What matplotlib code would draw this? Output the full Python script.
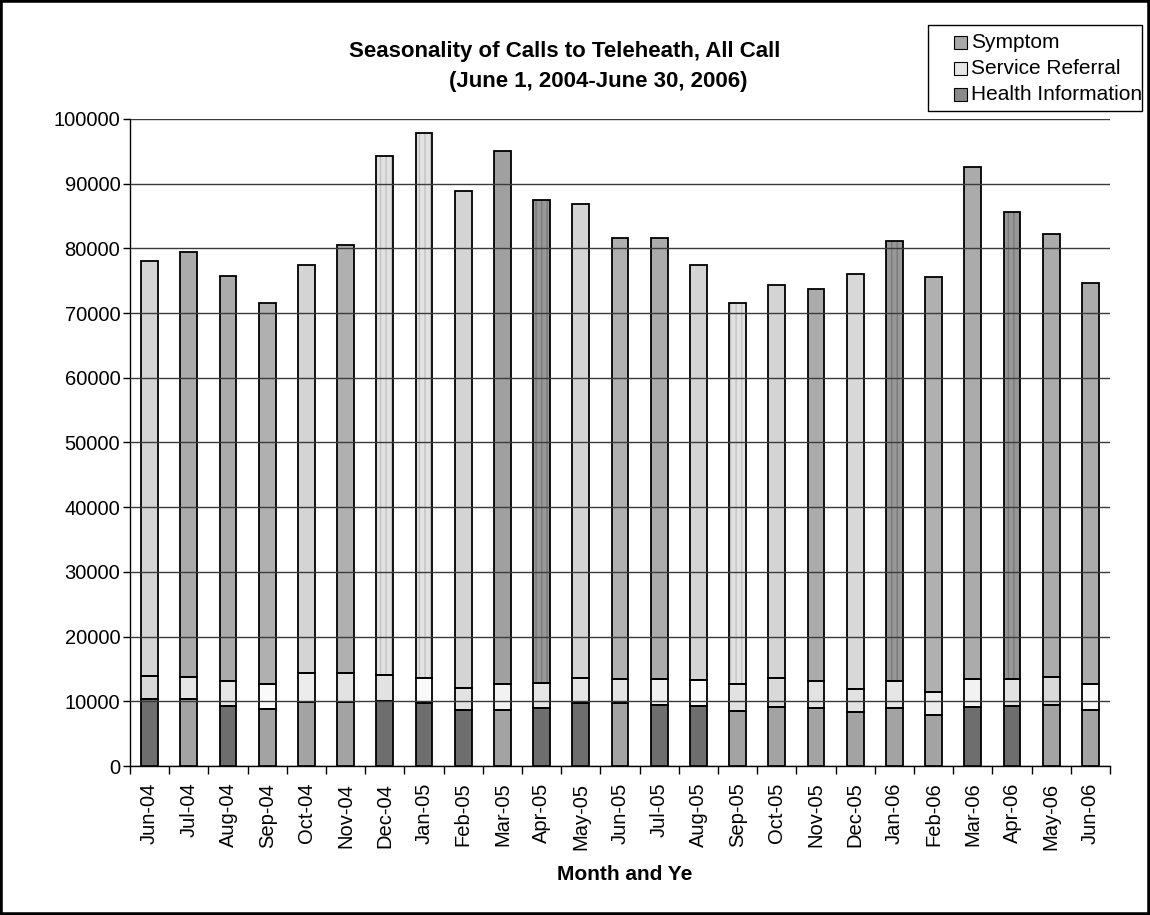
#!/usr/bin/env python3

import matplotlib
matplotlib.use('Agg')
import matplotlib.pyplot as plt
from matplotlib.patches import Rectangle
from matplotlib.ticker import StrMethodFormatter, FixedLocator
import numpy as np

months = ['Jun-04', 'Jul-04', 'Aug-04', 'Sep-04', 'Oct-04', 'Nov-04', 'Dec-04',
          'Jan-05', 'Feb-05', 'Mar-05', 'Apr-05', 'May-05', 'Jun-05', 'Jul-05',
          'Aug-05', 'Sep-05', 'Oct-05', 'Nov-05', 'Dec-05', 'Jan-06', 'Feb-06',
          'Mar-06', 'Apr-06', 'May-06', 'Jun-06']

# calls per month, stacked bottom to top
health_info = [10300, 10400, 9300, 8750, 9850, 9950, 10100, 9700, 8700, 8700,
               8960, 9700, 9700, 9500, 9270, 8550, 9170, 9000, 8400, 8960,
               7930, 9070, 9220, 9480, 8700]
service_referral = [3660, 3400, 3900, 3850, 4450, 4450, 4000, 3950, 3360, 3900,
                    3840, 3950, 3800, 3900, 4030, 4050, 4380, 4200, 3450, 4240,
                    3570, 4330, 4230, 4320, 4000]
symptom = [64040, 65700, 62600, 58900, 63100, 66100, 80200, 84250, 76840, 82400,
           74700, 73250, 68150, 68200, 64100, 59000, 60750, 60600, 64250, 67900,
           64100, 79200, 72150, 68400, 62000]

legend_labels = ['Symptom', 'Service Referral', 'Health Information']

# grey fills, one per bar (excel pattern fills flattened to greys)
D, L = '#6e6e6e', '#a3a3a3'
hi_colors = [D, L, D, L, L, L, D, D, D, L, D, D, L, D, D, L, L, L, L, L,
             L, D, D, L, L]
sr_colors = ['#d9d9d9', '#e6e6e6', '#e6e6e6', '#fafafa', '#ececec', '#e2e2e2',
             '#e2e2e2', '#fafafa', '#e2e2e2', '#f2f2f2', '#e6e6e6', '#e6e6e6',
             '#e2e2e2', '#f0f0f0', '#fafafa', '#e2e2e2', '#d9d9d9', '#e2e2e2',
             '#e2e2e2', '#e6e6e6', '#ececec', '#f2f2f2', '#e2e2e2', '#d9d9d9',
             '#fafafa']
sy_colors = ['#d4d4d4', '#ababab', '#ababab', '#b0b0b0', '#d4d4d4', '#b0b0b0',
             '#e2e2e2', '#e2e2e2', '#d4d4d4', '#a0a0a0', '#989898', '#d4d4d4',
             '#b0b0b0', '#ababab', '#d4d4d4', '#e2e2e2', '#d4d4d4', '#ababab',
             '#d8d8d8', '#989898', '#b0b0b0', '#ababab', '#989898', '#ababab',
             '#ababab']
sy_striped = [6, 7, 10, 15, 19, 22]
legend_colors = ['#a8a8a8', '#e6e6e6', '#8a8a8a']

plt.rcParams['font.family'] = ['Liberation Sans', 'DejaVu Sans']
plt.rcParams['hatch.linewidth'] = 1.0

W, H = 1150, 915
fig = plt.figure(figsize=(W / 100, H / 100), dpi=100)
ax = fig.add_axes([130 / W, 1 - 766 / H, 980 / W, 647 / H])

def fx(px):
    return px / W

def fy(py):
    return 1 - py / H

x = np.arange(len(months))
w = 0.43
hi = np.array(health_info)
sr = np.array(service_referral)
sy = np.array(symptom)

segments = [(hi, np.zeros_like(hi), hi_colors),
            (sr, hi, sr_colors),
            (sy, hi + sr, sy_colors)]
for vals, base, cols in segments:
    ax.bar(x, vals, w, bottom=base, color=cols, edgecolor='none', zorder=2)

# vertical stripe texture on some symptom bars
for i in sy_striped:
    stripe = '#7a7a7a' if sy_colors[i] == '#989898' else '#c2c2c2'
    ax.bar(x[i], sy[i], w, bottom=hi[i] + sr[i], facecolor='none',
           edgecolor=stripe, hatch='|||', linewidth=0, zorder=2.2)

for vals, base, cols in segments:
    ax.bar(x, vals, w, bottom=base, facecolor='none', edgecolor='black',
           linewidth=1.3, zorder=2.5)

ax.set_xlim(-0.5, len(months) - 0.5)
ax.set_ylim(0, 100000)
ax.set_yticks(np.arange(0, 100001, 10000))
ax.yaxis.set_major_formatter(StrMethodFormatter('{x:.0f}'))
ax.yaxis.grid(True, color='#3a3a3a', linewidth=1.0)
ax.set_axisbelow(False)

ax.set_xticks(x)
ax.set_xticklabels(months, rotation=90, fontsize=14.5)
ax.xaxis.set_minor_locator(FixedLocator(np.arange(-0.5, len(months), 1.0)))
ax.tick_params(axis='x', which='major', length=0, pad=12)
ax.tick_params(axis='x', which='minor', length=6, width=1, direction='out')
ax.tick_params(axis='y', length=5, width=1, pad=2, labelsize=14.5)

for s in ['top', 'right']:
    ax.spines[s].set_visible(False)
for s in ['left', 'bottom']:
    ax.spines[s].set_linewidth(1.0)

fig.text(fx(565), fy(57), 'Seasonality of Calls to Teleheath, All Call',
         ha='center', va='baseline', fontsize=16, fontweight='bold')
fig.text(fx(598), fy(87), '(June 1, 2004-June 30, 2006)',
         ha='center', va='baseline', fontsize=16, fontweight='bold')
fig.text(fx(625), fy(874), 'Month and Ye', ha='center', va='center',
         fontsize=15, fontweight='bold')

# legend box, drawn by hand so the last label runs up to the frame
fig.patches.append(Rectangle((fx(928), fy(111)), fx(1142) - fx(928),
                             fy(25) - fy(111), transform=fig.transFigure,
                             facecolor='white', edgecolor='black',
                             linewidth=1.0, zorder=5))
for k, (lab, col) in enumerate(zip(legend_labels, legend_colors)):
    yc = 42 + 26 * k
    fig.patches.append(Rectangle((fx(954), fy(yc + 6.5)), fx(967) - fx(954),
                                 fy(yc - 6.5) - fy(yc + 6.5),
                                 transform=fig.transFigure, facecolor=col,
                                 edgecolor='black', linewidth=0.8, zorder=6))
    fig.text(fx(971), fy(yc), lab, ha='left', va='center', fontsize=15,
             zorder=7)

fig.patches.append(Rectangle((0, 0), 1, 1, transform=fig.transFigure,
                             fill=False, edgecolor='black', linewidth=4))

fig.savefig('out.png', dpi=100)
plt.close()
